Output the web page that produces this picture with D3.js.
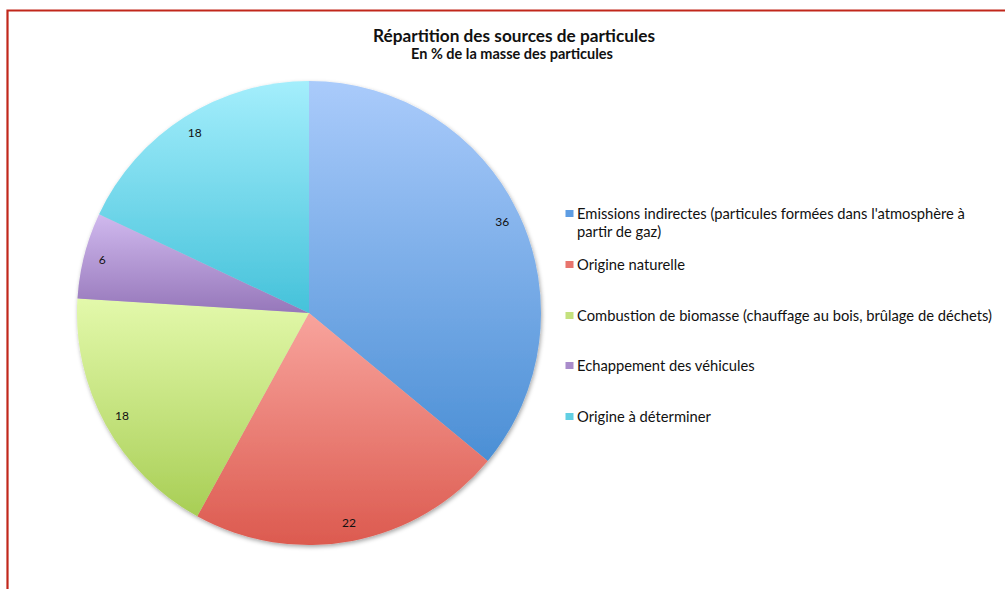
<!DOCTYPE html>
<html><head><meta charset="utf-8">
<script src="https://cdn.jsdelivr.net/npm/d3@7"></script>
<style>body{margin:0;background:#fff;} svg{display:block;}</style>
</head><body>
<svg id="c" width="1005" height="589"></svg>
<script>
const categories = [
  ["Emissions indirectes (particules formées dans l'atmosphère à", "partir de gaz)"],
  ["Origine naturelle"],
  ["Combustion de biomasse (chauffage au bois, brûlage de déchets)"],
  ["Echappement des véhicules"],
  ["Origine à déterminer"]
];
const values = [36, 22, 18, 6, 18];
const topColors = ["#aacbfb", "#f8a49d", "#e3f9ab", "#d0b9ee", "#a4eefc"];
const bottomColors = ["#4b8fd5", "#dc5a4f", "#a8ce55", "#9677ba", "#45c2da"];
const swatchColors = ["#5e9de3", "#e8756d", "#c4e17e", "#a98ccb", "#62cfe3"];
const title = "Répartition des sources de particules";
const subtitle = "En % de la masse des particules";

const svg = d3.select("#c");
const defs = svg.append("defs");
values.forEach((v, i) => {
  const g = defs.append("linearGradient").attr("id", "g" + i)
    .attr("x1", 0).attr("y1", 0).attr("x2", 0).attr("y2", 1);
  g.append("stop").attr("offset", "0%").attr("stop-color", topColors[i]);
  g.append("stop").attr("offset", "100%").attr("stop-color", bottomColors[i]);
});
const f = defs.append("filter").attr("id", "sh").attr("x", "-10%").attr("y", "-10%").attr("width", "120%").attr("height", "120%");
f.append("feDropShadow").attr("dx", 1).attr("dy", 2).attr("stdDeviation", 2).attr("flood-color", "#000").attr("flood-opacity", 0.35);

// border
svg.append("path").attr("d", "M7.5,589 L7.5,10.5 L1005,10.5")
  .attr("fill", "none").attr("stroke", "#c1271b").attr("stroke-width", 2.2);

const font = "Lato, 'Open Sans', sans-serif";
function fit(sel, target) {
  const w = sel.node().getComputedTextLength();
  const fs = parseFloat(sel.attr("font-size"));
  sel.attr("font-size", fs * target / w);
}
const t1 = svg.append("text").attr("x", 514).attr("y", 42).attr("text-anchor", "middle")
  .attr("font-family", font).attr("font-weight", "bold").attr("font-size", 14.5).attr("fill", "#111").text(title);
fit(t1, 282);
const t2 = svg.append("text").attr("x", 512).attr("y", 59).attr("text-anchor", "middle")
  .attr("font-family", font).attr("font-weight", "bold").attr("font-size", 11.5).attr("fill", "#111").text(subtitle);
fit(t2, 202);

const cx = 309, cy = 313, R = 232;
const pie = d3.pie().sort(null).value(d => d);
const arcs = pie(values);
const arc = d3.arc().innerRadius(0).outerRadius(R);
const labelArc = d3.arc().innerRadius(R * 0.92).outerRadius(R * 0.92);
const g = svg.append("g").attr("transform", `translate(${cx},${cy})`);
g.append("g").attr("filter", "url(#sh)").selectAll("path").data(arcs).join("path")
  .attr("d", arc).attr("fill", (d, i) => `url(#g${i})`);
g.selectAll("text").data(arcs).join("text")
  .attr("transform", d => `translate(${labelArc.centroid(d)})`)
  .attr("text-anchor", "middle").attr("dy", "0.35em")
  .attr("font-family", font).attr("font-size", 12).attr("fill", "#111")
  .text(d => d.data);

// legend
const legendY = [219, 270, 321, 371, 422];
const lg = svg.append("g");
// measure legend font size so the widest line spans like the reference
const probe = svg.append("text").attr("font-family", font).attr("font-size", 13).text(categories[2][0]);
const legendFs = 13 * 415 / probe.node().getComputedTextLength();
probe.remove();
categories.forEach((lines, i) => {
  lg.append("rect").attr("x", 565.5).attr("y", legendY[i] - 9).attr("width", 8).attr("height", 7)
    .attr("fill", swatchColors[i]);
  lines.forEach((t, j) => {
    lg.append("text").attr("x", 577).attr("y", legendY[i] + j * 18)
      .attr("font-family", font).attr("font-size", legendFs).attr("fill", "#111").text(t);
  });
});
</script>
</body></html>
